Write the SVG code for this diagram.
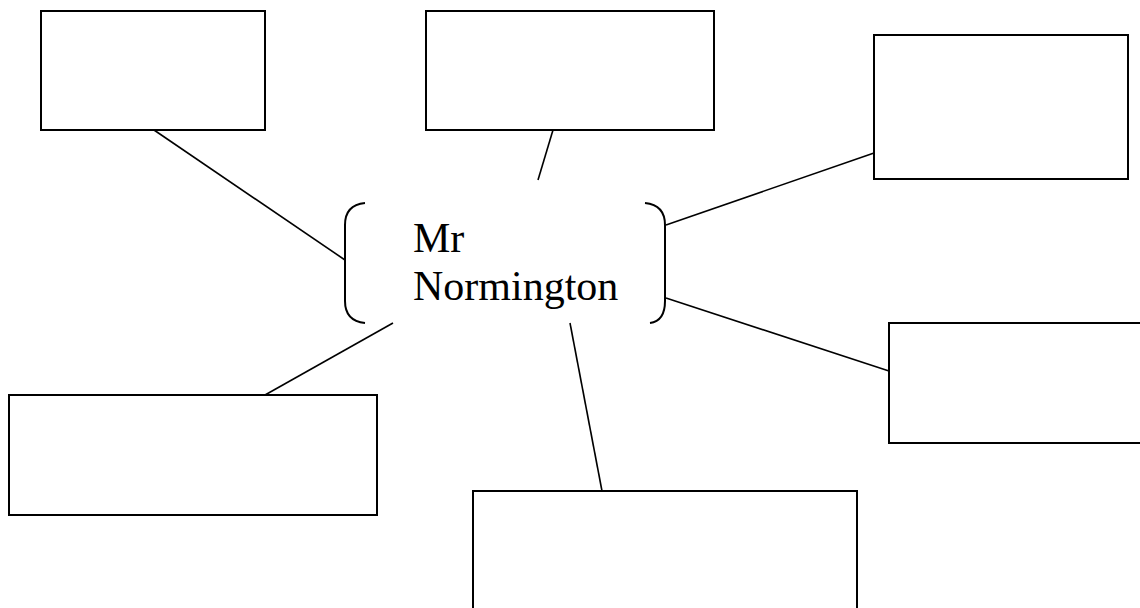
<svg xmlns="http://www.w3.org/2000/svg" width="1140" height="608" viewBox="0 0 1140 608">
<style>
.box{fill:#fff;stroke:#000;stroke-width:2}
.ln{stroke:#000;stroke-width:1.6;fill:none}
.br{stroke:#000;stroke-width:2;fill:none}
.t{font-family:"Liberation Serif","Times New Roman",serif;font-size:42px;fill:#000}
</style>
<rect width="1140" height="608" fill="#fff"/>
<g id="connectors">
<line class="ln" x1="154" y1="130" x2="345" y2="260"/>
<line class="ln" x1="553" y1="130" x2="538" y2="180"/>
<line class="ln" x1="666" y1="225" x2="874" y2="153"/>
<line class="ln" x1="666" y1="298" x2="889" y2="371"/>
<line class="ln" x1="393" y1="323" x2="265" y2="395"/>
<line class="ln" x1="570" y1="323" x2="602" y2="491"/>
</g>
<g id="center">
<path class="br" d="M365,203 Q345,205 345,225 L345,301 Q345,321 365,323"/>
<path class="br" d="M645,203 Q665,205 665,225 L665,301 Q665,321 650,323"/>
<text class="t" x="413" y="252">Mr</text>
<text class="t" x="413" y="300">Normington</text>
</g>
<g id="box1"><rect class="box" x="41" y="11" width="224" height="119"/></g>
<g id="box2"><rect class="box" x="426" y="11" width="288" height="119"/></g>
<g id="box3"><rect class="box" x="874" y="35" width="254" height="144"/></g>
<g id="box4"><rect class="box" x="889" y="323" width="260" height="120"/></g>
<g id="box5"><rect class="box" x="9" y="395" width="368" height="120"/></g>
<g id="box6"><rect class="box" x="473" y="491" width="384" height="130"/></g>
</svg>
